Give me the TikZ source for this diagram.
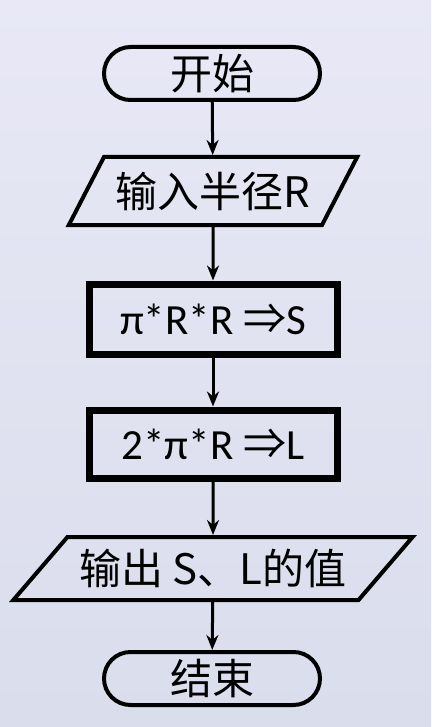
\documentclass[tikz,border=0pt]{standalone}
\usepackage{fontspec}
\setmainfont{Carlito}
\newfontfamily\cjk{Noto Sans CJK SC}
\usetikzlibrary{shapes.geometric,shapes.misc,arrows.meta}

\definecolor{bgtop}{RGB}{232,232,246}
\definecolor{bgbot}{RGB}{218,221,236}

\tikzset{
    term/.style={rounded rectangle, draw, line width=4pt, inner sep=0pt,
        minimum width=216pt, minimum height=53pt,
        font=\cjk\fontsize{42}{44}\selectfont},
    proc/.style={rectangle, draw, line width=7pt, inner sep=0pt,
        minimum width=248pt, minimum height=70pt,
        font=\fontsize{43}{45}\selectfont},
    io/.style={trapezium, draw, line width=4pt, inner sep=0pt,
        trapezium stretches=true,
        font=\cjk\fontsize{42}{44}\selectfont},
    flow/.style={line width=3pt, -{Stealth[length=15pt,width=12pt]}}
}

\begin{document}
\begin{tikzpicture}[x=1pt, y=-1pt]
    % Canvas
    \useasboundingbox (0,0) rectangle (431,727);
    \shade[top color=bgtop, bottom color=bgbot] (0,0) rectangle (431,727);

    % Start / end
    \node[term] (start) at (212,73.5) {开始};
    \node[term] (stop) at (212,678.5) {结束};

    % Input and output
    \node[io, minimum width=289pt, minimum height=68pt,
        trapezium left angle=51, trapezium right angle=129]
        (input) at (213,191) {输入半径R};
    \node[io, minimum width=401pt, minimum height=63pt,
        trapezium left angle=38, trapezium right angle=142]
        (output) at (213,568.5) {输出 S、L的值};

    % Calculations
    \node[proc] (area) at (213,319) {π*R*R {\cjk ⇒}S};
    \node[proc, minimum height=68pt] (perim) at (213,444) {2*π*R {\cjk ⇒}L};

    % Flow lines
    \foreach \a/\b in {start/input, input/area, area/perim, perim/output, output/stop}
        \draw[flow] (\a) -- (\b);
\end{tikzpicture}
\end{document}
